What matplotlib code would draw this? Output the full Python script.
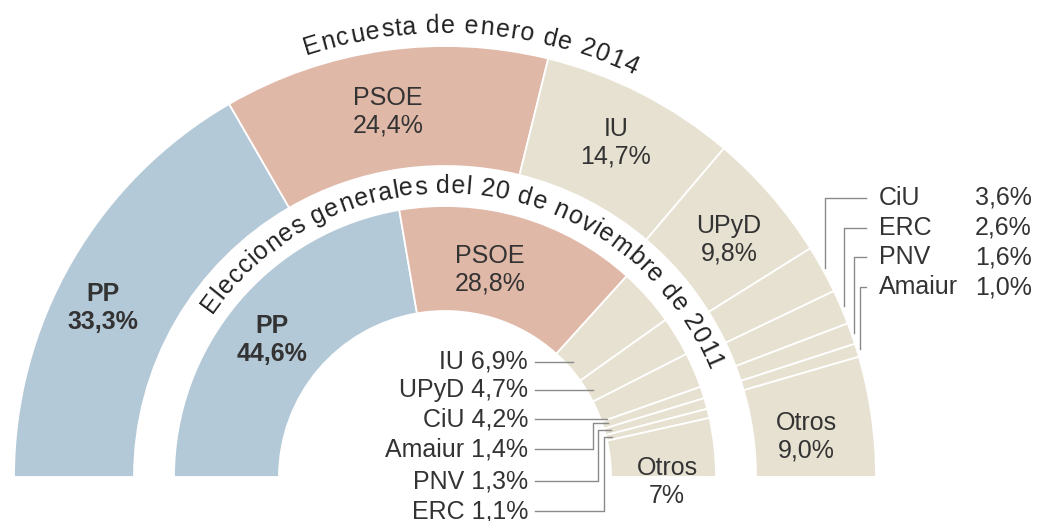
import numpy as np
import matplotlib
matplotlib.use("Agg")
import matplotlib.pyplot as plt
from matplotlib.patches import Wedge
from matplotlib.font_manager import FontProperties

# Datos
partidos_2014 = ["PP", "PSOE", "IU", "UPyD", "CiU", "ERC", "PNV", "Amaiur", "Otros"]
valores_2014 = [33.3, 24.4, 14.7, 9.8, 3.6, 2.6, 1.6, 1.0, 9.0]
textos_2014 = ["33,3%", "24,4%", "14,7%", "9,8%", "3,6%", "2,6%", "1,6%", "1,0%", "9,0%"]

partidos_2011 = ["PP", "PSOE", "IU", "UPyD", "CiU", "Amaiur", "PNV", "ERC", "Otros"]
valores_2011 = [44.6, 28.8, 6.9, 4.7, 4.2, 1.4, 1.3, 1.1, 7.0]
textos_2011 = ["44,6%", "28,8%", "6,9%", "4,7%", "4,2%", "1,4%", "1,3%", "1,1%", "7%"]

titulo_2014 = "Encuesta de enero de 2014"
titulo_2011 = "Elecciones generales del 20 de noviembre de 2011"

# Colores
colores = {"PP": "#b4c9d8", "PSOE": "#e0b8a8"}
beige = "#e7e1d1"
gris_texto = "#333333"
gris_linea = "#8a8a8a"

W, H = 1038, 521
FAMILIA = "Liberation Sans"
FS = 18

fig = plt.figure(figsize=(W / 100, H / 100), dpi=100)
ax = fig.add_axes([0, 0, 1, 1])
ax.set_xlim(0, W)
ax.set_ylim(0, H)
ax.set_aspect("equal")
ax.axis("off")

# centro y radios (en pixeles, y hacia arriba)
cx, cy = 445, H - 477
R_ext = (311, 431)
R_int = (166, 271)


def angulos(valores):
    total = sum(valores)
    bordes = 180 - np.cumsum([0] + list(valores)) / total * 180
    return bordes


def polar(r, ang):
    return cx + r * np.cos(np.radians(ang)), cy + r * np.sin(np.radians(ang))


def img(x, y):
    # coordenadas de imagen -> ejes
    return x, H - y


def anillo(partidos, valores, radios):
    bordes = angulos(valores)
    for i, p in enumerate(partidos):
        w = Wedge((cx, cy), radios[1], bordes[i + 1], bordes[i],
                  width=radios[1] - radios[0],
                  facecolor=colores.get(p, beige), edgecolor="white", linewidth=1.3)
        ax.add_patch(w)
    return bordes


bordes_2014 = anillo(partidos_2014, valores_2014, R_ext)
bordes_2011 = anillo(partidos_2011, valores_2011, R_int)
medio_2014 = (bordes_2014[:-1] + bordes_2014[1:]) / 2
medio_2011 = (bordes_2011[:-1] + bordes_2011[1:]) / 2

renderer = fig.canvas.get_renderer()


# Texto curvo (k = espaciado extra entre letras)
def texto_arco(s, r, centro, size, k=1.0, color="#222222"):
    prop = FontProperties(family=FAMILIA, size=size)

    def ancho(t):
        return renderer.get_text_width_height_descent(t, prop, ismath=False)[0]

    total = ancho(s)
    for i, c in enumerate(s):
        if c == " ":
            continue
        m = ancho(s[:i + 1]) - ancho(c) / 2
        ang = centro + np.degrees((total / 2 - m) * k / r)
        x, y = polar(r, ang)
        ax.text(x, y, c, rotation=ang - 90, rotation_mode="anchor",
                ha="center", va="baseline", fontproperties=prop, color=color)


texto_arco(titulo_2014, 444, 86.5, FS, k=1.1)
texto_arco(titulo_2011, 284, 83.5, FS, k=1.08)

# Etiquetas dentro de los sectores
etiq = dict(family=FAMILIA, fontsize=FS, color=gris_texto, ha="center", va="center", linespacing=1.2)
pos_2014 = {"PP": (103, 308), "PSOE": (388, 112), "IU": (616, 143), "UPyD": (729, 240), "Otros": (806, 437)}
pos_2011 = {"PP": (272, 340), "PSOE": (490, 270), "Otros": (667, 482)}
for p, t in zip(partidos_2014, textos_2014):
    if p in pos_2014:
        x, y = img(*pos_2014[p])
        ax.text(x, y, f"{p}\n{t}", fontweight="bold" if p == "PP" else "normal", **etiq)
for p, t in zip(partidos_2011, textos_2011):
    if p in pos_2011:
        x, y = img(*pos_2011[p])
        ax.text(x, y, f"{p}\n{t}", fontweight="bold" if p == "PP" else "normal", **etiq)

# Leyenda 2011 (izquierda, dentro del semicirculo)
leyenda_2011 = ["IU", "UPyD", "CiU", "Amaiur", "PNV", "ERC"]
y_filas_2011 = [362, 390, 419, 449, 481, 511]
codos_2011 = {"Amaiur": 593, "PNV": 598, "ERC": 604}
r_l = 172
for p, yi in zip(leyenda_2011, y_filas_2011):
    i = partidos_2011.index(p)
    x0, y0 = img(528, yi)
    ax.text(x0, y0, f"{p} {textos_2011[i]}", family=FAMILIA, fontsize=FS,
            color=gris_texto, ha="right", va="center")
    xs = x0 + 7
    if p in codos_2011:
        xt, yt = polar(r_l, medio_2011[i])
        xc = codos_2011[p]
        ax.plot([xs, xc, xc, xt], [y0, y0, yt, yt], color=gris_linea, lw=1)
    else:
        dy = y0 - cy
        xt = cx + np.sqrt(r_l ** 2 - dy ** 2)
        ax.plot([xs, xt], [y0, y0], color=gris_linea, lw=1)

# Leyenda 2014 (derecha)
leyenda_2014 = ["CiU", "ERC", "PNV", "Amaiur"]
y_filas_2014 = [198, 228, 257, 287]
for p, yi in zip(leyenda_2014, y_filas_2014):
    i = partidos_2014.index(p)
    x0, y0 = img(879, yi)
    ax.text(x0, y0, p, family=FAMILIA, fontsize=FS, color=gris_texto, ha="left", va="center")
    ax.text(1032, y0, textos_2014[i], family=FAMILIA, fontsize=FS, color=gris_texto,
            ha="right", va="center")
    xt, yt = polar(434, medio_2014[i])
    ax.plot([866, xt, xt], [y0, y0, yt], color=gris_linea, lw=1)

fig.savefig("out.png", dpi=100, facecolor="white")
